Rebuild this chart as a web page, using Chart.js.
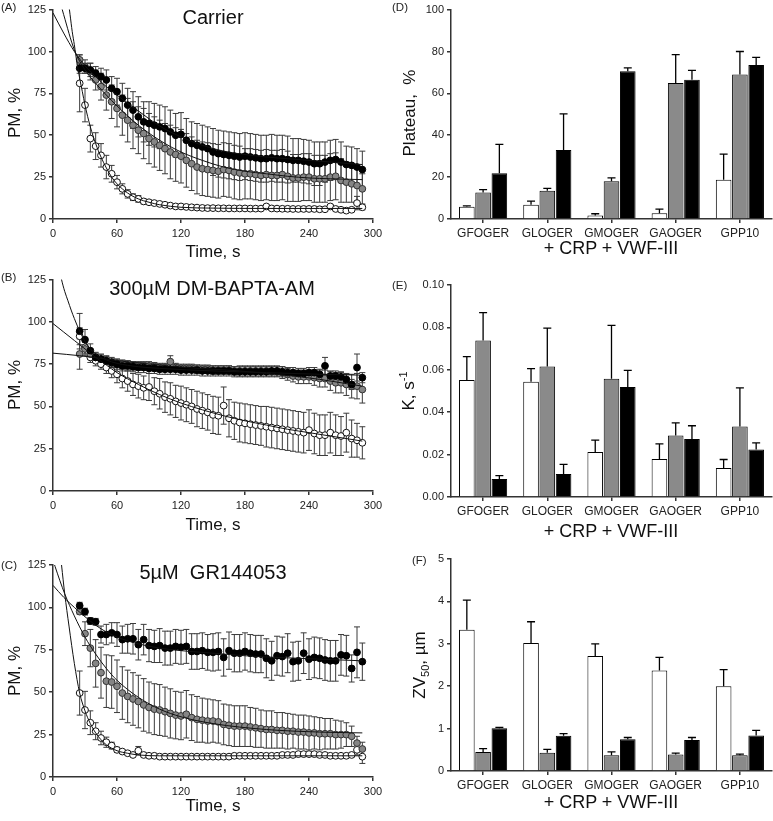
<!DOCTYPE html>
<html lang="en">
<head>
<meta charset="utf-8">
<title>PM decay and fit parameters</title>
<script src="https://cdn.jsdelivr.net/npm/chart.js@4.4.1/dist/chart.umd.min.js"></script>
<style>
  html, body { margin: 0; padding: 0; background: #fff; }
  #figura { position: relative; width: 773px; height: 821px; overflow: hidden;
            font-family: "Liberation Sans", Arial, sans-serif; color: #111; }
  .caja { position: absolute; }
  .txt { position: absolute; white-space: pre; line-height: 1; transform: translate(-50%, -50%); }
  .rot { transform: translate(-50%, -50%) rotate(-90deg); }
  .letra { position: absolute; font-size: 11.5px; line-height: 1; color: #222; }
  sub, sup { font-size: 11px; line-height: 0; }
</style>
</head>
<body>
<div id="figura">
  <div class="caja" style="left:0;top:0;width:390px;height:269px"><canvas id="cA"></canvas></div>
  <div class="caja" style="left:0;top:270px;width:390px;height:271px"><canvas id="cB"></canvas></div>
  <div class="caja" style="left:0;top:541px;width:390px;height:280px"><canvas id="cC"></canvas></div>
  <div class="caja" style="left:390px;top:0;width:383px;height:269px"><canvas id="cD"></canvas></div>
  <div class="caja" style="left:390px;top:270px;width:383px;height:277px"><canvas id="cE"></canvas></div>
  <div class="caja" style="left:390px;top:545px;width:383px;height:276px"><canvas id="cF"></canvas></div>

  <div class="letra" style="left:1px;top:2px">(A)</div>
  <div class="letra" style="left:1px;top:272px">(B)</div>
  <div class="letra" style="left:1px;top:560px">(C)</div>
  <div class="letra" style="left:392px;top:2px">(D)</div>
  <div class="letra" style="left:392px;top:280px">(E)</div>
  <div class="letra" style="left:412px;top:555px">(F)</div>

  <div class="txt" style="left:213px;top:17px;font-size:20px">Carrier</div>
  <div class="txt" style="left:212px;top:288px;font-size:20px">300µM DM-BAPTA-AM</div>
  <div class="txt" style="left:213px;top:572px;font-size:20px">5µM  GR144053</div>

  <div class="txt" style="left:213px;top:251px;font-size:17px">Time, s</div>
  <div class="txt" style="left:213px;top:524px;font-size:17px">Time, s</div>
  <div class="txt" style="left:213px;top:805px;font-size:17px">Time, s</div>
  <div class="txt rot" style="left:14px;top:113px;font-size:17px">PM, %</div>
  <div class="txt rot" style="left:14px;top:385px;font-size:17px">PM, %</div>
  <div class="txt rot" style="left:14px;top:671px;font-size:17px">PM, %</div>

  <div class="txt" style="left:611px;top:248px;font-size:18px">+ CRP + VWF-III</div>
  <div class="txt" style="left:611px;top:531px;font-size:18px">+ CRP + VWF-III</div>
  <div class="txt" style="left:611px;top:802px;font-size:18px">+ CRP + VWF-III</div>
  <div class="txt rot" style="left:409px;top:113px;font-size:17px">Plateau,  %</div>
  <div class="txt rot" style="left:408px;top:391px;font-size:17px">K, s<sup>-1</sup></div>
  <div class="txt rot" style="left:419px;top:665px;font-size:17px">ZV<sub>50</sub>, µm</div>
</div>

<script>
// ---- datos ----
const TIME = [25, 30, 35, 40, 45, 50, 55, 60, 65, 70, 75, 80, 85, 90, 95, 100, 105, 110, 115, 120,
  125, 130, 135, 140, 145, 150, 155, 160, 165, 170, 175, 180, 185, 190, 195, 200, 205, 210, 215, 220,
  225, 230, 235, 240, 245, 250, 255, 260, 265, 270, 275, 280, 285, 290];
const TIME_TICKS = [0, 60, 120, 180, 240, 300];
const PM_TICKS = [0, 25, 50, 75, 100, 125];

// (A) Carrier
const A_OPEN = [81, 68, 48, 43.5, 38, 31, 27, 22, 18, 15, 13, 12, 10.5, 10, 9.5, 9, 8.5, 8, 7.5, 7.5,
  7.2, 7, 6.8, 6.6, 6.5, 6.5, 6.4, 6.4, 6.3, 6.3, 6.3, 6.3, 6.2, 6.2, 6.2, 7.5, 6.3, 6.2, 6.1, 6.1,
  6, 6, 6, 6, 6, 5.8, 5.8, 7.5, 6, 5.5, 5, 5.5, 9.5, 7];
const A_OPEN_ERR = [17, 10, 8, 8, 7, 7, 5, 4, 3, 2.5, 2, 2, 1.5, 1.2, 1, 1, 1, 1, 1, 1,
  1, 1, 1, 1, 1, 1, 1, 1, 1, 1, 1, 1, 1, 1, 1, 1, 1, 1, 1, 1,
  1, 1, 1, 1, 1, 1, 1, 1, 1, 1, 1, 1, 4, 1.5];
const A_GRAY = [95, 91, 88, 83, 79, 74, 70, 66, 62, 59, 56, 53, 51, 48, 46, 44, 42, 40, 38.5, 37.5,
  35, 33, 31, 30, 29.5, 29, 28.5, 29.5, 29, 28, 27.5, 27, 27, 26.5, 26, 26.5, 26, 26, 26.5, 25.5,
  24.5, 24.5, 25, 25, 24, 24, 24, 25, 25.5, 23, 22, 21, 20, 18];
const A_GRAY_ERR = [3, 4, 5, 6, 8, 9, 10, 11, 12, 13, 14, 14, 15, 15, 15, 15, 15, 16, 16, 16,
  16, 16, 16, 16, 16, 16, 16, 16, 16, 16, 16, 15, 15, 15, 15, 15, 15, 15, 15, 15,
  14, 14, 14, 14, 14, 14, 14, 14, 14, 13, 12, 11, 10, 9];
const A_BLACK = [90, 90, 89, 87, 85, 83, 78, 76, 72, 68, 65, 61, 58, 57, 56, 55, 54, 52, 50, 50.5,
  47, 45, 44, 43, 42, 40, 39, 38.5, 38, 37.5, 37, 37.5, 37, 36.5, 36, 36, 36.5, 36, 36, 35.5,
  35, 35, 34.5, 34, 33, 33, 34, 35, 35.5, 34, 32.5, 32, 31, 29.5];
const A_BLACK_ERR = [3, 3, 4, 4, 5, 6, 7, 8, 9, 10, 11, 12, 12, 13, 13, 13, 13, 13, 13, 13,
  13, 13, 13, 13, 13, 14, 14, 14, 14, 14, 14, 14, 14, 14, 14, 14, 14, 14, 14, 14,
  13, 13, 13, 13, 13, 13, 12, 12, 12, 12, 11, 11, 11, 11];
// curvas de ajuste
const A_FIT_OPEN_T = [14, 16, 18, 20, 22.5, 25, 27.5, 30, 35, 40, 45, 50, 55, 60, 70, 80, 90, 100, 120, 150, 200, 250, 290];
const A_FIT_OPEN = [132, 122, 112, 104, 93, 84, 76, 68, 55, 45, 37, 30.5, 25, 21, 15.5, 12, 10, 8.5, 7, 6.5, 6.3, 6.3, 6.3];
const A_FIT_T = [0, 10, 20, 30, 40, 50, 60, 70, 80, 100, 120, 140, 160, 180, 200, 220, 240, 260, 290];
const A_FIT_GRAY = [145, 122, 101, 89, 81, 74, 67.5, 61.5, 56, 47, 40, 35, 31, 28.5, 27, 25.5, 24.5, 24, 23.5];
const A_FIT_BLACK = [123, 111, 100, 91.5, 85, 79, 74, 69, 64.5, 55.5, 49, 44, 40.5, 38.5, 37, 36, 35, 34, 32.5];

// (B) 300uM DM-BAPTA-AM
const B_OPEN = [91.5, 85, 79, 77, 75, 73, 71, 69, 66.5, 65, 63, 62, 61, 61.5, 59, 57.5, 55.5, 54.5, 53, 52,
  51, 50, 48.5, 47.5, 46.5, 45, 44.5, 50.5, 43, 41.5, 40.5, 40, 39.5, 39, 38.5, 38, 37.5, 37, 36.5, 36,
  35.5, 35, 34.5, 36, 34, 33, 33, 34.5, 33, 32.5, 34.5, 31, 30, 28.5];
const B_OPEN_ERR = [5, 4, 3, 3, 3, 3.5, 4, 5, 5.5, 6, 6.5, 7, 7, 8, 8, 9, 9, 9.5, 9.5, 10,
  10, 10, 10.5, 10.5, 10.5, 11, 11, 11, 11, 11, 11.5, 11.5, 11.5, 11.5, 11.5, 12, 12, 12, 12, 12,
  12, 12, 12, 12, 12, 12, 12, 12, 12, 11.5, 11.5, 11, 10, 9.5];
const B_GRAY = [81, 84, 81, 79, 78, 77, 76, 75.5, 75, 74.5, 74, 74, 74, 74, 73.5, 73, 73, 76.5, 73, 72.5,
  72.5, 72.5, 72, 72, 72, 71.5, 71.5, 71.5, 71.5, 71, 71, 71, 71, 71, 71, 71, 70.5, 70.5, 70, 69,
  68, 67.5, 67.5, 67.5, 67, 66.5, 66.5, 65, 64, 64, 63, 62, 62, 60];
const B_GRAY_ERR = [9, 4, 3, 2.5, 2.5, 2.5, 2.5, 2.5, 2.5, 2.5, 2.5, 2.5, 2.5, 2.5, 2.5, 2.5, 2.5, 3.5, 2.5, 2.5,
  2.5, 2.5, 2.5, 2.5, 2.5, 2.5, 2.5, 2.5, 2.5, 2.5, 3, 3, 3, 3, 3, 3, 3, 3, 3.5, 3.5,
  3.5, 4, 4, 4, 4.5, 5, 5, 5.5, 6, 6, 6.5, 7, 7.5, 8];
const B_BLACK = [94.5, 89.5, 83, 79, 78, 77, 76, 75, 74, 74, 73.5, 73, 73, 72.5, 72.5, 72, 72, 72, 72, 71.5,
  71.5, 71.5, 71.5, 71, 71, 71, 71, 71, 71, 70.5, 70.5, 70.5, 70.5, 70.5, 70.5, 70.5, 71, 71, 70.5, 70,
  70, 69.5, 69.5, 70, 70, 69, 74, 68, 68, 67.5, 66, 63, 73, 67];
const B_BLACK_ERR = [10.5, 6, 4, 3, 3, 3, 3, 3, 3, 3, 3, 3, 3, 3, 3, 3, 3, 3, 3, 3,
  3, 3, 3, 3, 3, 3, 3, 3, 3, 3, 3, 3, 3, 3, 3, 3, 3, 3, 3, 3,
  3, 3, 3, 3, 3, 3, 5, 3, 3, 3, 3, 3, 8, 3];
const B_FIT_OPEN_T = [0, 10, 20, 25, 30, 40, 50, 60, 80, 100, 120, 140, 160, 180, 200, 220, 240, 260, 290];
const B_FIT_OPEN = [99, 94, 89, 86.5, 84, 79, 74.5, 70, 63, 57, 52, 48, 44.5, 41.5, 39, 36.5, 34.5, 32.5, 29.5];
const B_FIT_GRAY_T = [0, 25, 50, 75, 100, 125, 150, 175, 200, 225, 250, 275, 290];
const B_FIT_GRAY = [81.5, 80, 78, 76, 74.5, 73, 72, 71, 69.5, 68, 66, 63.5, 62];
const B_FIT_BLACK_T = [6, 8, 11, 14, 17, 20, 25, 30, 35, 40, 50, 60, 80, 100, 150, 200, 250, 290];
const B_FIT_BLACK = [131, 125, 118, 112.5, 107, 102, 94.5, 88.5, 84, 81, 77.5, 75.5, 73.5, 72.5, 71, 70, 69, 68.5];

// (C) 5uM GR144053
const C_OPEN = [49.5, 39.5, 32, 27, 23, 20.5, 18.5, 16, 15, 14, 13, 15.5, 13, 12.5, 12.5, 12, 12, 12, 12, 12,
  12, 12, 12, 12, 12, 12, 12, 12, 12, 12.5, 12.5, 12.5, 12.5, 12.5, 12.5, 12.5, 12.5, 12.5, 13, 13,
  13, 13.5, 13.5, 13.5, 13.5, 13, 13, 12.5, 12.5, 12.5, 12.5, 13, 16, 12];
const C_OPEN_ERR = [13, 11, 7, 5, 4, 3, 2, 1.5, 1, 1, 1, 2.5, 1, 1, 1, 1, 1, 1, 1, 1,
  1, 1, 1, 1, 1, 1, 1, 1, 1, 1, 1, 1, 1, 1, 1, 1, 1, 1, 1, 1,
  1, 1, 1, 1, 1, 1, 1, 1, 1, 1, 1, 1, 3, 4];
const C_GRAY = [97.5, 84.5, 76, 67, 61.5, 56.5, 56, 53.5, 49.5, 47.5, 46, 44.5, 42.5, 41, 40, 39.5, 38.5, 37.5, 36.5, 36,
  37, 35, 34, 33.5, 33, 33, 32.5, 31, 30.5, 30, 30, 30, 29.5, 29, 28.5, 28, 28, 27.5, 27.5, 27,
  27, 26.5, 26.5, 26, 26, 25.5, 25.5, 25.5, 25, 25, 25, 24, 20, 16.5];
const C_GRAY_ERR = [1.5, 7, 11, 14, 15, 15.5, 15.5, 15.5, 15.5, 15.5, 15.5, 15.5, 15.5, 15, 15, 15, 14.5, 14.5, 14, 14,
  14, 13.5, 13.5, 13, 13, 12.5, 12.5, 12, 12, 12, 12, 12, 11.5, 11.5, 11, 11, 11, 10.5, 10.5, 10.5,
  10, 10, 10, 10, 9.5, 9.5, 9, 9, 8.5, 8, 7, 6, 4, 4];
const C_BLACK = [101, 97.5, 92, 91.5, 84, 84, 85, 84, 81, 81.5, 81.5, 78, 81, 77.5, 77, 77.5, 76, 76, 77, 76.5,
  77, 74, 74, 74.5, 73.5, 73.5, 74, 70.5, 74.5, 73, 73, 74, 73, 72.5, 72.5, 70, 68.5, 71.5, 71, 73,
  68, 68.5, 73, 69.5, 70.5, 70, 69, 68.5, 68.5, 72, 71.5, 64, 73.5, 68];
const C_BLACK_ERR = [2, 2, 2, 2, 5, 6, 6, 7, 8, 8.5, 9, 9, 9, 9.5, 9.5, 10, 10, 10, 10, 10,
  10, 10.5, 10.5, 10.5, 10.5, 11, 11, 11, 11, 11, 11, 11, 11, 11, 11, 11.5, 11.5, 11.5, 11.5, 11.5,
  11.5, 11.5, 12, 12, 12, 12, 12, 12, 12, 12, 12, 8, 15, 11];
const C_FIT_OPEN_T = [7, 8, 11, 15, 20, 25, 30, 35, 40, 45, 50, 60, 70, 80, 100, 150, 200, 290];
const C_FIT_OPEN = [131, 125, 108, 89, 67, 49.5, 39, 31.5, 26, 22, 19, 15.5, 14, 13, 12.5, 12.5, 12.5, 12.5];
const C_FIT_GRAY_T = [0, 2, 11, 20, 30, 40, 50, 60, 80, 100, 120, 150, 200, 250, 290];
const C_FIT_GRAY = [128, 124, 108, 95, 82.5, 72.5, 64, 57, 47, 40, 35.5, 31.5, 28, 26.5, 26];
const C_FIT_BLACK_T = [0, 10, 20, 30, 40, 50, 60, 80, 100, 120, 150, 180, 210, 250, 290];
const C_FIT_BLACK = [113, 106, 100, 94.5, 89.5, 85.5, 82.5, 78.5, 76, 74.5, 73, 71.5, 70.5, 69.5, 68.5];

// (D)-(F) barras
const PEPTIDES = ['GFOGER', 'GLOGER', 'GMOGER', 'GAOGER', 'GPP10'];
const PLATEAU_WHITE = [5.8, 6.8, 1.7, 2.8, 18.7];
const PLATEAU_WHITE_ERR = [0.5, 1.7, 0.8, 1.9, 12.3];
const PLATEAU_GRAY = [12.7, 13.5, 18, 65, 69];
const PLATEAU_GRAY_ERR = [1.3, 1.1, 1.6, 13.5, 11];
const PLATEAU_BLACK = [21.8, 33, 70.5, 66.5, 73.5];
const PLATEAU_BLACK_ERR = [13.8, 17.2, 1.7, 4.5, 3.7];
const K_WHITE = [0.0552, 0.0544, 0.0212, 0.0179, 0.0137];
const K_WHITE_ERR = [0.011, 0.0062, 0.0056, 0.0072, 0.004];
const K_GRAY = [0.0738, 0.0615, 0.0558, 0.029, 0.0333];
const K_GRAY_ERR = [0.0132, 0.0182, 0.0252, 0.006, 0.0182];
const K_BLACK = [0.0085, 0.0108, 0.0519, 0.0274, 0.0224];
const K_BLACK_ERR = [0.0016, 0.0046, 0.0078, 0.0062, 0.0031];
const ZV_WHITE = [3.33, 3.02, 2.71, 2.37, 2.0];
const ZV_WHITE_ERR = [0.70, 0.50, 0.29, 0.31, 0.39];
const ZV_GRAY = [0.45, 0.43, 0.37, 0.39, 0.37];
const ZV_GRAY_ERR = [0.08, 0.08, 0.08, 0.03, 0.03];
const ZV_BLACK = [1.01, 0.83, 0.75, 0.73, 0.84];
const ZV_BLACK_ERR = [0.02, 0.05, 0.04, 0.06, 0.12];

// ---- estilo ----
const FONT = '"Liberation Sans", Arial, sans-serif';
const AXIS = '#333';
const GRAY_FILL = '#8a8a8a';

// Plugin de barras de error (se dibuja debajo de los puntos)
const errorBars = {
  id: 'errorBars',
  beforeDatasetsDraw(chart) {
    const ctx = chart.ctx;
    const yScale = chart.scales.y;
    chart.data.datasets.forEach((ds, i) => {
      if (!ds.errors) return;
      const meta = chart.getDatasetMeta(i);
      ctx.save();
      ctx.strokeStyle = ds.errorColor || '#333';
      ctx.lineWidth = ds.errorWidth || 1;
      meta.data.forEach((el, j) => {
        const raw = ds.data[j];
        const val = typeof raw === 'object' ? raw.y : raw;
        const e = ds.errors[j];
        const x = el.x;
        const cap = ds.capWidth || 3;
        const yTop = yScale.getPixelForValue(val + e);
        const yBot = ds.upOnly ? el.y : yScale.getPixelForValue(val - e);
        ctx.beginPath();
        ctx.moveTo(x, yTop);
        ctx.lineTo(x, yBot);
        ctx.moveTo(x - cap, yTop);
        ctx.lineTo(x + cap, yTop);
        if (!ds.upOnly) {
          ctx.moveTo(x - cap, yBot);
          ctx.lineTo(x + cap, yBot);
        }
        ctx.stroke();
      });
      ctx.restore();
    });
  }
};

function axisBase(size) {
  return {
    border: { display: true, color: AXIS, width: 1.5 },
    grid: { display: true, drawOnChartArea: false, drawTicks: true, tickLength: 4, color: AXIS, lineWidth: 1.5 },
    ticks: { color: '#222', font: { family: FONT, size: size || 11 }, padding: 3 }
  };
}

function pts(xs, ys) {
  return xs.map((x, i) => ({ x: x, y: ys[i] }));
}

function serie(vals, errs, fill, border, order) {
  return {
    data: pts(TIME, vals),
    errors: errs,
    backgroundColor: fill,
    borderColor: border,
    borderWidth: 1,
    pointRadius: 3.4,
    pointHoverRadius: 3.4,
    errorColor: '#3a3a3a',
    capWidth: 3,
    order: order
  };
}

function ajuste(ts, vals) {
  return {
    data: pts(ts, vals),
    showLine: true,
    borderColor: '#111',
    borderWidth: 1,
    pointRadius: 0,
    cubicInterpolationMode: 'monotone',
    clip: 0,
    order: 0
  };
}

// Grafico de tiempo (paneles A-C)
function panelTiempo(id, padTop, xH, open, gray, black, fits) {
  const x = axisBase(11);
  x.type = 'linear';
  x.min = 0; x.max = 300;
  x.ticks.stepSize = 60;
  x.ticks.padding = 4;
  x.afterBuildTicks = s => { s.ticks = TIME_TICKS.map(v => ({ value: v })); };
  x.afterFit = s => { s.height = xH; };
  const y = axisBase(11);
  y.min = 0; y.max = 125;
  y.ticks.stepSize = 25;
  y.afterBuildTicks = s => { s.ticks = PM_TICKS.map(v => ({ value: v })); };
  y.afterFit = s => { s.width = 53; };

  return new Chart(document.getElementById(id), {
    type: 'scatter',
    data: {
      datasets: [
        ...fits,
        serie(black[0], black[1], '#000', '#000', 1),
        serie(gray[0], gray[1], '#858585', '#333', 2),
        serie(open[0], open[1], '#fff', '#111', 3)
      ]
    },
    options: {
      responsive: true,
      maintainAspectRatio: false,
      animation: false,
      events: [],
      layout: { padding: { top: padTop, right: 17, left: 0, bottom: 0 } },
      plugins: { legend: { display: false }, tooltip: { enabled: false } },
      scales: { x: x, y: y }
    },
    plugins: [errorBars]
  });
}

function barra(vals, errs, fill) {
  return {
    data: vals,
    errors: errs,
    upOnly: true,
    backgroundColor: fill,
    borderColor: '#000',
    borderWidth: 1,
    errorColor: '#000',
    errorWidth: 1.3,
    capWidth: 4,
    categoryPercentage: 0.76,
    barPercentage: 0.96
  };
}

// Grafico de barras (paneles D-F)
function panelBarras(id, padTop, yMax, step, fmt, white, gray, black) {
  const x = axisBase(12);
  x.type = 'category';
  x.grid.offset = false;
  x.ticks.padding = 3;
  x.afterFit = s => { s.height = 50; };
  const y = axisBase(11);
  y.min = 0; y.max = yMax;
  y.ticks.stepSize = step;
  y.ticks.callback = v => fmt(v);
  y.afterFit = s => { s.width = 61; };

  return new Chart(document.getElementById(id), {
    type: 'bar',
    data: {
      labels: PEPTIDES,
      datasets: [
        barra(white[0], white[1], '#fff'),
        barra(gray[0], gray[1], GRAY_FILL),
        barra(black[0], black[1], '#000')
      ]
    },
    options: {
      responsive: true,
      maintainAspectRatio: false,
      animation: false,
      events: [],
      layout: { padding: { top: padTop, right: 1, left: 0, bottom: 0 } },
      plugins: { legend: { display: false }, tooltip: { enabled: false } },
      scales: { x: x, y: y }
    },
    plugins: [errorBars]
  });
}

panelTiempo('cA', 7, 50, [A_OPEN, A_OPEN_ERR], [A_GRAY, A_GRAY_ERR], [A_BLACK, A_BLACK_ERR], [
  ajuste(A_FIT_OPEN_T, A_FIT_OPEN), ajuste(A_FIT_T, A_FIT_GRAY), ajuste(A_FIT_T, A_FIT_BLACK)
]);
panelTiempo('cB', 8, 50, [B_OPEN, B_OPEN_ERR], [B_GRAY, B_GRAY_ERR], [B_BLACK, B_BLACK_ERR], [
  ajuste(B_FIT_OPEN_T, B_FIT_OPEN), ajuste(B_FIT_GRAY_T, B_FIT_GRAY), ajuste(B_FIT_BLACK_T, B_FIT_BLACK)
]);
panelTiempo('cC', 24, 44, [C_OPEN, C_OPEN_ERR], [C_GRAY, C_GRAY_ERR], [C_BLACK, C_BLACK_ERR], [
  ajuste(C_FIT_OPEN_T, C_FIT_OPEN), ajuste(C_FIT_GRAY_T, C_FIT_GRAY), ajuste(C_FIT_BLACK_T, C_FIT_BLACK)
]);

panelBarras('cD', 7, 100, 20, v => String(v),
  [PLATEAU_WHITE, PLATEAU_WHITE_ERR], [PLATEAU_GRAY, PLATEAU_GRAY_ERR], [PLATEAU_BLACK, PLATEAU_BLACK_ERR]);
panelBarras('cE', 15, 0.1, 0.02, v => v.toFixed(2),
  [K_WHITE, K_WHITE_ERR], [K_GRAY, K_GRAY_ERR], [K_BLACK, K_BLACK_ERR]);
panelBarras('cF', 14, 5, 1, v => String(v),
  [ZV_WHITE, ZV_WHITE_ERR], [ZV_GRAY, ZV_GRAY_ERR], [ZV_BLACK, ZV_BLACK_ERR]);
</script>
</body>
</html>
